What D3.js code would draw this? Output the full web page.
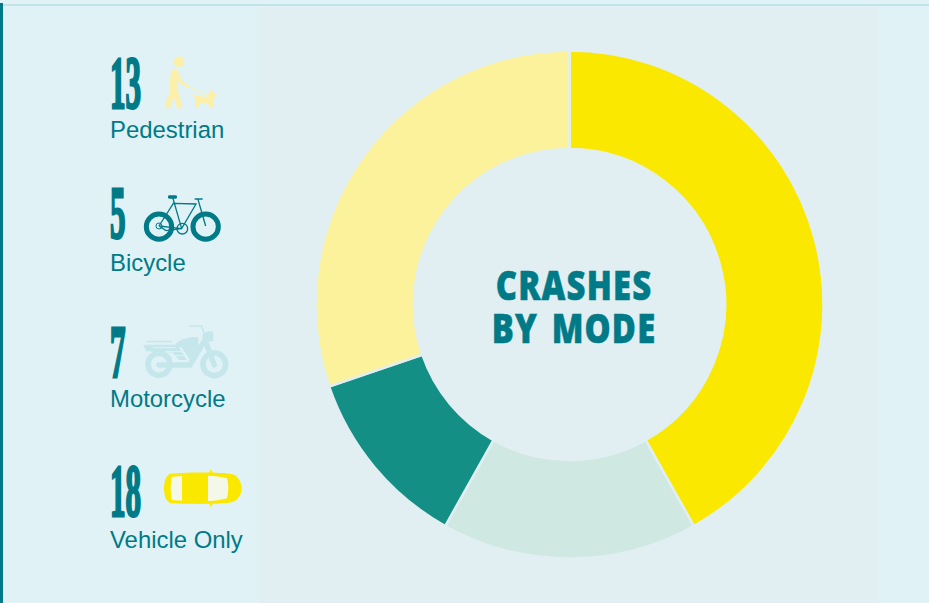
<!DOCTYPE html>
<html>
<head>
<meta charset="utf-8">
<script src="https://cdn.jsdelivr.net/npm/d3@7"></script>
<style>
html, body { margin: 0; padding: 0; background: #e0f2f6; overflow: hidden; }
svg { display: block; }
</style>
</head>
<body>
<div id="chart"></div>
<script>
// data, clockwise from 12 o'clock
var modes = ["Vehicle Only", "Motorcycle", "Bicycle", "Pedestrian"];
var crashes = [18, 7, 5, 13];
var sliceColors = ["#fae800", "#cfe8e2", "#148f85", "#fbf29b"];
var titleLines = ["CRASHES", "BY MODE"];

// legend runs the other way round
var legendOrder = ["Pedestrian", "Bicycle", "Motorcycle", "Vehicle Only"];

var width = 929, height = 603;
var teal = "#007a87";

var svg = d3.select("#chart").append("svg")
  .attr("width", width)
  .attr("height", height);

// backgrounds
svg.append("rect").attr("width", width).attr("height", height).attr("fill", "#e0f2f6");
svg.append("rect").attr("x", 260).attr("y", 6).attr("width", 618).attr("height", height - 6).attr("fill", "#e1eff2");
svg.append("rect").attr("x", 0).attr("y", 4).attr("width", width).attr("height", 2).attr("fill", "#c0e4e8");
svg.append("rect").attr("x", 0).attr("y", 3).attr("width", 3).attr("height", height).attr("fill", teal);

// donut
var pie = d3.pie().sort(null).value(function(d) { return d; });
var arc = d3.arc().innerRadius(155.5).outerRadius(254);

var donut = svg.append("g")
  .attr("class", "donut")
  .attr("transform", "translate(569.5,304.5)");

donut.selectAll("path")
  .data(pie(crashes))
  .enter().append("path")
  .attr("d", arc)
  .attr("fill", function(d, i) { return sliceColors[i]; })
  .attr("stroke", "#e1eff2")
  .attr("stroke-width", 2.5);

// centre title, squeezed to the poster's condensed look
var title = svg.append("text")
  .attr("class", "title")
  .attr("transform", "translate(574,0) scale(0.8,1)")
  .attr("text-anchor", "middle")
  .attr("fill", teal)
  .attr("stroke", teal)
  .attr("stroke-width", 0.6)
  .style("font-family", "'Open Sans'")
  .style("font-weight", 800)
  .style("font-size", "41px")
  .style("letter-spacing", "1.5px")
  .style("word-spacing", "5px");

title.selectAll("tspan")
  .data(titleLines)
  .enter().append("tspan")
  .attr("x", 0)
  .attr("y", function(d, i) { return 300 + i * 43; })
  .text(function(d) { return d; });

// legend
var rowY = d3.scaleOrdinal().domain(legendOrder).range([108, 238, 377, 516]);
var labelY = d3.scaleOrdinal().domain(legendOrder).range([138, 271, 407, 548]);

function countOf(name) { return crashes[modes.indexOf(name)]; }

var rows = svg.selectAll(".row")
  .data(legendOrder)
  .enter().append("g")
  .attr("class", "row");

rows.append("text")
  .attr("transform", function(d) { return "translate(110," + rowY(d) + ") scale(0.42,1)"; })
  .attr("fill", teal)
  .attr("stroke", teal)
  .attr("stroke-width", 3)
  .style("font-family", "'Liberation Sans Narrow'")
  .style("font-weight", 700)
  .style("font-size", "74px")
  .text(function(d) { return countOf(d); });

rows.append("text")
  .attr("x", 110)
  .attr("y", function(d) { return labelY(d); })
  .attr("fill", teal)
  .style("font-family", "'Liberation Sans'")
  .style("font-size", "23.9px")
  .text(function(d) { return d; });

// icons, drawn in zoomed-crop units so they scale down by 3
var walker = svg.append("g").attr("transform", "translate(90,40) scale(0.3333)");
var pale = "#fcefaa";
walker.append("circle").attr("cx", 267).attr("cy", 65).attr("r", 16).attr("fill", pale);
walker.append("path").attr("fill", "none").attr("stroke", pale).attr("stroke-linecap", "round").attr("stroke-width", 24)
  .attr("d", "M254,100 L250,150");
walker.append("path").attr("fill", "none").attr("stroke", pale).attr("stroke-linecap", "round").attr("stroke-width", 17)
  .attr("d", "M250,150 L233,197 M254,150 L268,197");
walker.append("path").attr("fill", "none").attr("stroke", pale).attr("stroke-linecap", "round").attr("stroke-width", 9)
  .attr("d", "M262,105 L272,125 L292,137");
walker.append("path").attr("fill", "none").attr("stroke", pale).attr("stroke-width", 3)
  .attr("d", "M292,137 L355,167");
walker.append("path").attr("fill", pale)
  .attr("d", "M308,158 L320,168 L352,170 L362,148 L370,158 L384,165 L372,174 L370,204 L362,204 L352,188 L330,190 L325,204 L316,204 L316,178 Z");

var bike = svg.append("g").attr("transform", "translate(90,40) scale(0.3333)");
bike.selectAll("circle.wheel")
  .data([207, 347])
  .enter().append("circle")
  .attr("cx", function(d) { return d; })
  .attr("cy", 560)
  .attr("r", 38)
  .attr("fill", "none")
  .attr("stroke", teal)
  .attr("stroke-width", 15);
bike.append("path").attr("fill", "none").attr("stroke", teal).attr("stroke-width", 4)
  .attr("d", "M207,558 L250,490 L318,492 L275,566 L207,558 M248,472 L275,566 M347,558 L324,478 M314,477 L338,477 M207,558 L228,572 L275,566");
bike.append("circle").attr("cx", 277).attr("cy", 566).attr("r", 16).attr("fill", "none").attr("stroke", teal).attr("stroke-width", 4);
bike.append("circle").attr("cx", 207).attr("cy", 558).attr("r", 9).attr("fill", "none").attr("stroke", teal).attr("stroke-width", 3);
bike.append("rect").attr("x", 234).attr("y", 466).attr("width", 27).attr("height", 10).attr("rx", 4).attr("fill", teal);

var moto = svg.append("g").attr("transform", "translate(90,310) scale(0.3333)");
var motoCol = "#c5e7ec";
moto.selectAll("circle.wheel")
  .data([{x: 207, r: 33}, {x: 373, r: 34}])
  .enter().append("circle")
  .attr("cx", function(d) { return d.x; })
  .attr("cy", 163)
  .attr("r", function(d) { return d.r; })
  .attr("fill", "none")
  .attr("stroke", motoCol)
  .attr("stroke-width", 17);
moto.append("path").attr("fill", "none").attr("stroke", motoCol).attr("stroke-width", 16).attr("stroke-linecap", "round")
  .attr("d", "M207,165 L300,165 L345,90 L373,165");
moto.append("path").attr("fill", "none").attr("stroke", motoCol).attr("stroke-width", 5)
  .attr("d", "M298,48 L335,48 L345,80");
moto.append("path").attr("fill", motoCol)
  .attr("d", "M252,110 C262,90 295,78 325,82 L325,110 L300,150 L275,112 Z");
moto.append("path").attr("fill", motoCol)
  .attr("d", "M336,78 C345,62 365,62 370,66 L370,94 C355,96 342,92 336,78 Z");
moto.append("path").attr("fill", motoCol)
  .attr("d", "M170,92 L245,92 L245,97 L170,97 Z M160,104 L262,104 L290,150 L268,150 L248,128 L168,124 Z");
moto.append("path").attr("fill", "none").attr("stroke", "#e0f2f6").attr("stroke-width", 3)
  .attr("d", "M190,113 L258,113 M225,125 L275,125 M252,137 L282,137");

var car = svg.append("g").attr("transform", "translate(90,310) scale(0.3333)");
car.append("path").attr("fill", "#fae800")
  .attr("d", "M240,491 C300,486 390,486 425,492 C445,496 455,520 455,535 C455,552 445,572 425,577 C390,583 300,583 240,579 C225,572 222,550 222,535 C222,518 226,498 240,491 Z");
car.append("path").attr("fill", "#fae800").attr("d", "M360,478 L370,490 L360,490 Z M360,592 L370,580 L360,580 Z");
car.append("path").attr("fill", "#f4f8e8").attr("d", "M246,500 L276,498 L276,572 L246,570 C241,550 241,520 246,500 Z");
car.append("path").attr("fill", "#f4f8e8").attr("d", "M354,497 C372,497 395,500 411,505 C416,525 416,545 411,565 C395,570 372,573 354,573 Z");
</script>
</body>
</html>
